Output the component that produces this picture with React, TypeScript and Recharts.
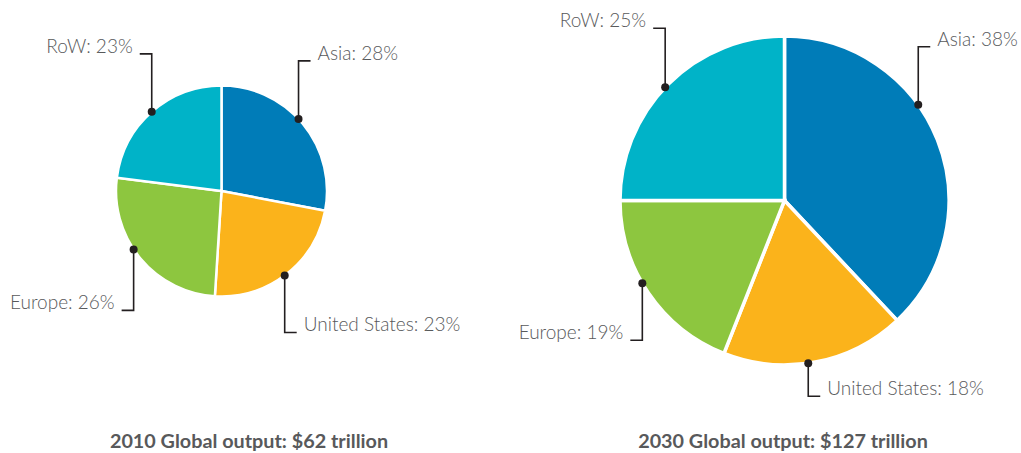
import React from 'react';
import { PieChart, Pie, Cell } from 'recharts';

// Share of global output by region, clockwise from 12 o'clock
const regions = ['Asia', 'United States', 'Europe', 'RoW'];
const share2010 = [28, 23, 26, 23];
const share2030 = [38, 18, 19, 25];
const titles = ['2010 Global output: $62 trillion', '2030 Global output: $127 trillion'];
const colors = ['#007cb8', '#fbb31b', '#8dc63f', '#00b3c8'];

// Leader-line layout per region: angle nudge from slice middle (deg) and vertical leg length (px)
const leaders2010 = [
  { nudge: 3.5, leg: 58 },
  { nudge: -1, leg: 57 },
  { nudge: -6, leg: 61 },
  { nudge: 0, leg: 58 },
];
const leaders2030 = [
  { nudge: 14, leg: 58 },
  { nudge: -2.5, leg: 33 },
  { nudge: -4, leg: 57 },
  { nudge: 1.5, leg: 59 },
];

const data2010 = regions.map((name, i) => ({ name, value: share2010[i] }));
const data2030 = regions.map((name, i) => ({ name, value: share2030[i] }));

const RAD = Math.PI / 180;
const LABEL_FONT = 'Lato, "Open Sans", sans-serif';

const makeLabel = (leaders: { nudge: number; leg: number }[]) => (props: any) => {
  const { cx, cy, midAngle, outerRadius, index, name, value } = props;
  const { nudge, leg } = leaders[index];
  const a = (midAngle + nudge) * RAD;
  const x = cx + outerRadius * Math.cos(-a);
  const y = cy + outerRadius * Math.sin(-a);
  const vDir = y < cy ? -1 : 1;
  const hDir = x > cx ? 1 : -1;
  const ey = y + vDir * leg;
  const ex = x + hDir * 12;
  const tx = ex + hDir * 7;
  return (
    <g>
      <polyline
        points={`${x},${y} ${x},${ey} ${ex},${ey}`}
        fill="none"
        stroke="#231f20"
        strokeWidth={1.6}
      />
      <circle cx={x} cy={y} r={4} fill="#231f20" />
      <text
        x={tx}
        y={ey - 1}
        textAnchor={hDir > 0 ? 'start' : 'end'}
        fill="#58595b"
        fontFamily={LABEL_FONT}
        fontWeight={300}
        fontSize={19}
      >
        {`${name}: ${value}%`}
      </text>
    </g>
  );
};

const titleStyle = (centerX: number): React.CSSProperties => ({
  position: 'absolute',
  left: centerX - 250,
  width: 500,
  top: 429,
  textAlign: 'center',
  fontFamily: LABEL_FONT,
  fontWeight: 700,
  fontSize: 19.8,
  lineHeight: '22px',
  color: '#58595b',
});

export default function App() {
  return (
    <div style={{ position: 'absolute', left: 0, top: 0, width: 1021, height: 453, background: '#fff', overflow: 'hidden' }}>
      <PieChart width={1021} height={453} margin={{ top: 0, right: 0, bottom: 0, left: 0 }}>
        <Pie
          data={data2010}
          dataKey="value"
          nameKey="name"
          cx={221.5}
          cy={191}
          outerRadius={105.5}
          startAngle={90}
          endAngle={-270}
          stroke="#ffffff"
          strokeWidth={2.5}
          label={makeLabel(leaders2010)}
          labelLine={false}
          isAnimationActive={false}
        >
          {data2010.map((d, i) => (
            <Cell key={d.name} fill={colors[i]} />
          ))}
        </Pie>
        <Pie
          data={data2030}
          dataKey="value"
          nameKey="name"
          cx={784.5}
          cy={200.5}
          outerRadius={164.5}
          startAngle={90}
          endAngle={-270}
          stroke="#ffffff"
          strokeWidth={3.5}
          label={makeLabel(leaders2030)}
          labelLine={false}
          isAnimationActive={false}
        >
          {data2030.map((d, i) => (
            <Cell key={d.name} fill={colors[i]} />
          ))}
        </Pie>
      </PieChart>
      <div style={titleStyle(249)}>{titles[0]}</div>
      <div style={titleStyle(783)}>{titles[1]}</div>
    </div>
  );
}
